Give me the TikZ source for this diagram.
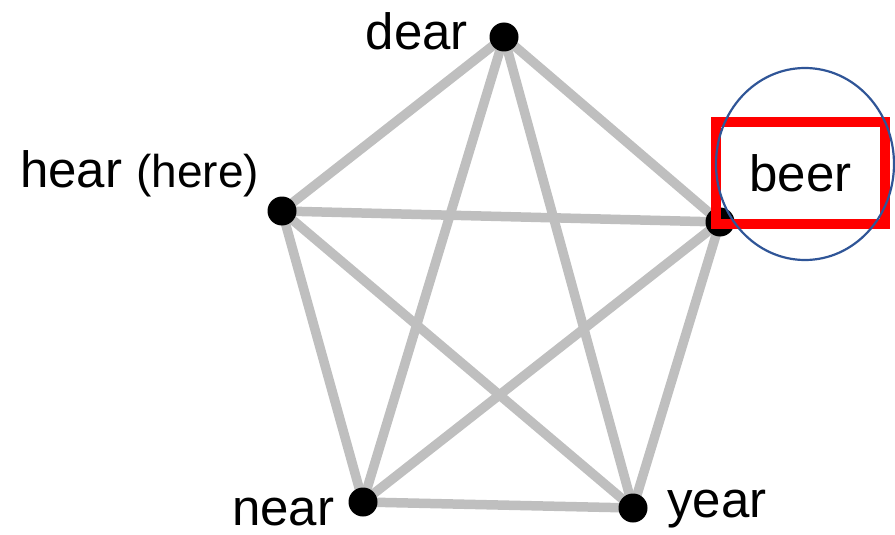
\documentclass[tikz,border=0pt]{standalone}
\usepackage{fontspec}
\setmainfont{Liberation Sans}
\usetikzlibrary{
    positioning,
    backgrounds
}
\definecolor{edgegray}{RGB}{191,191,191}
\definecolor{markred}{RGB}{255,0,0}
\definecolor{ringblue}{RGB}{47,85,151}
\tikzset{
    worddot/.style={
        circle,
        fill=black,
        inner sep=0pt,
        minimum size=29pt
    },
    link/.style={
        draw=edgegray,
        line width=9.5pt
    },
    word/.style={
        inner sep=0pt,
        font=\fontsize{51}{60}\selectfont,
        text=black
    },
    targetbox/.style={
        word,
        draw=markred,
        line width=10pt,
        minimum width=169pt,
        minimum height=102pt
    },
    ring/.style={
        draw=ringblue,
        line width=2.2pt
    }
}

\begin{document}
\begin{tikzpicture}[x=1pt, y=-1pt]
\useasboundingbox (0,0) rectangle (895,535);

% word dots
\node[worddot] (dear) at (504,37) {};
\node[worddot] (hear) at (282,211) {};
\node[worddot] (beer) at (720,222) {};
\node[worddot] (near) at (363,502) {};
\node[worddot] (year) at (633,508) {};

% every word linked to every other one
\begin{scope}[on background layer]
    \foreach \a/\b in {dear/hear,dear/beer,dear/near,dear/year,
                       hear/beer,hear/near,hear/year,
                       beer/near,beer/year,
                       near/year} {
        \draw[link] (\a.center) -- (\b.center);
    }
\end{scope}

% labels
\node[word, anchor=base east] (dearlbl) at (468,50) {dear};
\node[word, anchor=base west] (hearlbl) at (20,187) {hear {\fontsize{46}{54}\selectfont(here)}};
\node[word, anchor=base west] (nearlbl) at (232,525) {near};
\node[word, anchor=base west] (yearlbl) at (667,517) {year};

% highlighted word
\node[targetbox] (beerlbl) at (800.5,173) {beer};
\draw[ring] (805,164) ellipse [x radius=89pt, y radius=96pt];
\end{tikzpicture}
\end{document}
